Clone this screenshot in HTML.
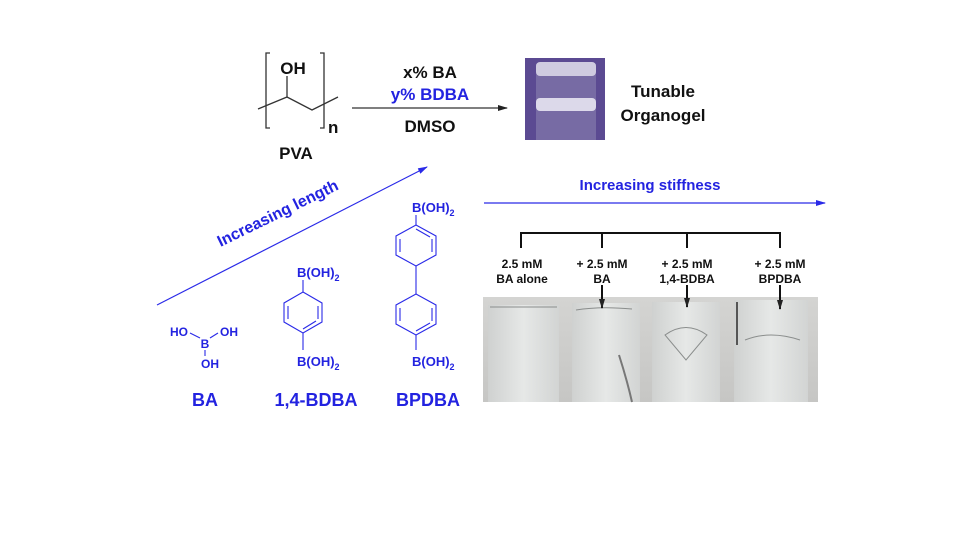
<!DOCTYPE html>
<html><head><meta charset="utf-8"><style>
html,body{margin:0;padding:0;background:#fff;}
svg{display:block;font-family:"Liberation Sans",Arial,sans-serif;font-weight:bold;}
</style></head><body>
<svg width="960" height="540" viewBox="0 0 960 540" xmlns="http://www.w3.org/2000/svg">
<defs>
<marker id="ab" markerWidth="10" markerHeight="8" refX="9" refY="4" orient="auto" markerUnits="userSpaceOnUse"><path d="M0,1 L10,4 L0,7 Z" fill="#2a2ae8"/></marker>
<marker id="ak" markerWidth="10" markerHeight="8" refX="9" refY="4" orient="auto" markerUnits="userSpaceOnUse"><path d="M0,1 L10,4 L0,7 Z" fill="#222"/></marker>
<linearGradient id="pg" x1="0" x2="0" y1="0" y2="1"><stop offset="0" stop-color="#d4d4d2"/><stop offset="1" stop-color="#c6c6c4"/></linearGradient>
<linearGradient id="tg" x1="0" x2="1" y1="0" y2="0"><stop offset="0" stop-color="#cfd1d0"/><stop offset="0.5" stop-color="#e6e8e7"/><stop offset="1" stop-color="#d2d4d3"/></linearGradient>
</defs>

<!-- PVA -->
<g stroke="#333" stroke-width="1.3" fill="none">
<path d="M270,53 L266,53 L266,128 L270,128"/>
<path d="M320,53 L324,53 L324,128 L320,128"/>
<path d="M258,109 L287,97 L312,110 L338,97"/>
<path d="M287,76 L287,97"/>
</g>
<text x="293" y="74" font-size="17" text-anchor="middle" fill="#111">OH</text>
<text x="328" y="133" font-size="17" fill="#111">n</text>
<text x="296" y="159" font-size="17" text-anchor="middle" fill="#111">PVA</text>

<line x1="352" y1="108" x2="507" y2="108" stroke="#333" stroke-width="1.2" marker-end="url(#ak)"/>
<text x="430" y="78" font-size="17" text-anchor="middle" fill="#111">x% BA</text>
<text x="430" y="100" font-size="17" text-anchor="middle" fill="#2323e0">y% BDBA</text>
<text x="430" y="132" font-size="17" text-anchor="middle" fill="#111">DMSO</text>

<!-- photo organogel -->
<rect x="525" y="58" width="80" height="82" fill="#5b4a92"/>
<rect x="536" y="64" width="60" height="76" fill="#8a82b0" opacity="0.6"/>
<rect x="536" y="62" width="60" height="14" rx="4" fill="#cfcbe0"/>
<rect x="536" y="98" width="60" height="13" rx="4" fill="#dcd9ea"/>
<text x="663" y="97" font-size="17" text-anchor="middle" fill="#111">Tunable</text>
<text x="663" y="121" font-size="17" text-anchor="middle" fill="#111">Organogel</text>

<!-- increasing length -->
<line x1="157" y1="305" x2="427" y2="167" stroke="#2a2ae8" stroke-width="1.2" marker-end="url(#ab)"/>
<text x="280" y="218" font-size="16" text-anchor="middle" fill="#2323e0" transform="rotate(-26 280 218)">Increasing length</text>

<!-- BA -->
<g fill="#2323e0" font-size="12">
<text x="179" y="336" text-anchor="middle">HO</text>
<text x="205" y="348" text-anchor="middle">B</text>
<text x="229" y="336" text-anchor="middle">OH</text>
<text x="210" y="368" text-anchor="middle">OH</text>
</g>
<g stroke="#2a2ae8" stroke-width="1.1" fill="none">
<path d="M190,333 L200,338"/><path d="M210,338 L218,333"/><path d="M205,350 L205,356"/>
</g>
<g fill="#2323e0" font-size="18">
<text x="205" y="406" text-anchor="middle">BA</text>
<text x="316" y="406" text-anchor="middle">1,4-BDBA</text>
<text x="428" y="406" text-anchor="middle">BPDBA</text>
</g>

<g fill="#2323e0" font-size="13">
<text x="297" y="277">B(OH)<tspan font-size="9" dy="4">2</tspan></text>
<text x="297" y="366">B(OH)<tspan font-size="9" dy="4">2</tspan></text>
<text x="412" y="212">B(OH)<tspan font-size="9" dy="4">2</tspan></text>
<text x="412" y="366">B(OH)<tspan font-size="9" dy="4">2</tspan></text>
</g>
<g stroke="#2a2ae8" stroke-width="1.1" fill="none">
<line x1="303" y1="280" x2="303" y2="292"/>
<polygon points="303,292 322,303 322,322 303,333 284,322 284,303"/>
<line x1="303" y1="333" x2="303" y2="350"/>
<path d="M288,306 L288,319 M318,306 L318,319 M303,329 L316,321"/>

<line x1="416" y1="215" x2="416" y2="225"/>
<polygon points="416,225 436,236 436,255 416,266 396,255 396,236"/>
<line x1="416" y1="266" x2="416" y2="294"/>
<path d="M400,239 L400,252 M432,239 L432,252 M416,229 L430,237"/>
<polygon points="416,294 436,305 436,324 416,335 396,324 396,305"/>
<line x1="416" y1="335" x2="416" y2="350"/>
<path d="M400,308 L400,321 M432,308 L432,321 M416,331 L430,323"/>
</g>

<!-- stiffness -->
<line x1="484" y1="203" x2="825" y2="203" stroke="#2a2ae8" stroke-width="1.2" marker-end="url(#ab)"/>
<text x="650" y="190" font-size="15" text-anchor="middle" fill="#2323e0">Increasing stiffness</text>

<g stroke="#111" stroke-width="2" fill="none">
<path d="M521,248 L521,233 L780,233 L780,248 M602,233 L602,248 M687,233 L687,248"/>
</g>
<g font-size="12" fill="#111" text-anchor="middle">
<text x="522" y="268">2.5 mM</text><text x="522" y="283">BA alone</text>
<text x="602" y="268">+ 2.5 mM</text><text x="602" y="283">BA</text>
<text x="687" y="268">+ 2.5 mM</text><text x="687" y="283">1,4-BDBA</text>
<text x="780" y="268">+ 2.5 mM</text><text x="780" y="283">BPDBA</text>
</g>

<!-- photo vials -->
<rect x="483" y="297" width="335" height="105" fill="url(#pg)"/>
<rect x="488" y="305" width="71" height="97" fill="url(#tg)"/>
<rect x="572" y="303" width="68" height="99" fill="url(#tg)"/>
<rect x="652" y="302" width="68" height="100" fill="url(#tg)"/>
<rect x="734" y="300" width="74" height="102" fill="url(#tg)"/>
<g stroke="#8a8d8c" stroke-width="1" fill="none">
<path d="M490,307 L557,307"/><path d="M576,310 Q600,306 632,309"/>
<path d="M665,335 Q686,320 707,335 L686,360 Z"/>
<path d="M745,340 Q770,330 800,340"/>
<path d="M737,302 L737,345" stroke="#555" stroke-width="2"/>
<path d="M619,355 Q627,380 632,402" stroke="#777" stroke-width="2"/>
</g>
<g stroke="#111" stroke-width="2">
<line x1="602" y1="285" x2="602" y2="308" marker-end="url(#ak)"/>
<line x1="687" y1="285" x2="687" y2="307" marker-end="url(#ak)"/>
<line x1="780" y1="285" x2="780" y2="309" marker-end="url(#ak)"/>
</g>
</svg>
</body></html>
